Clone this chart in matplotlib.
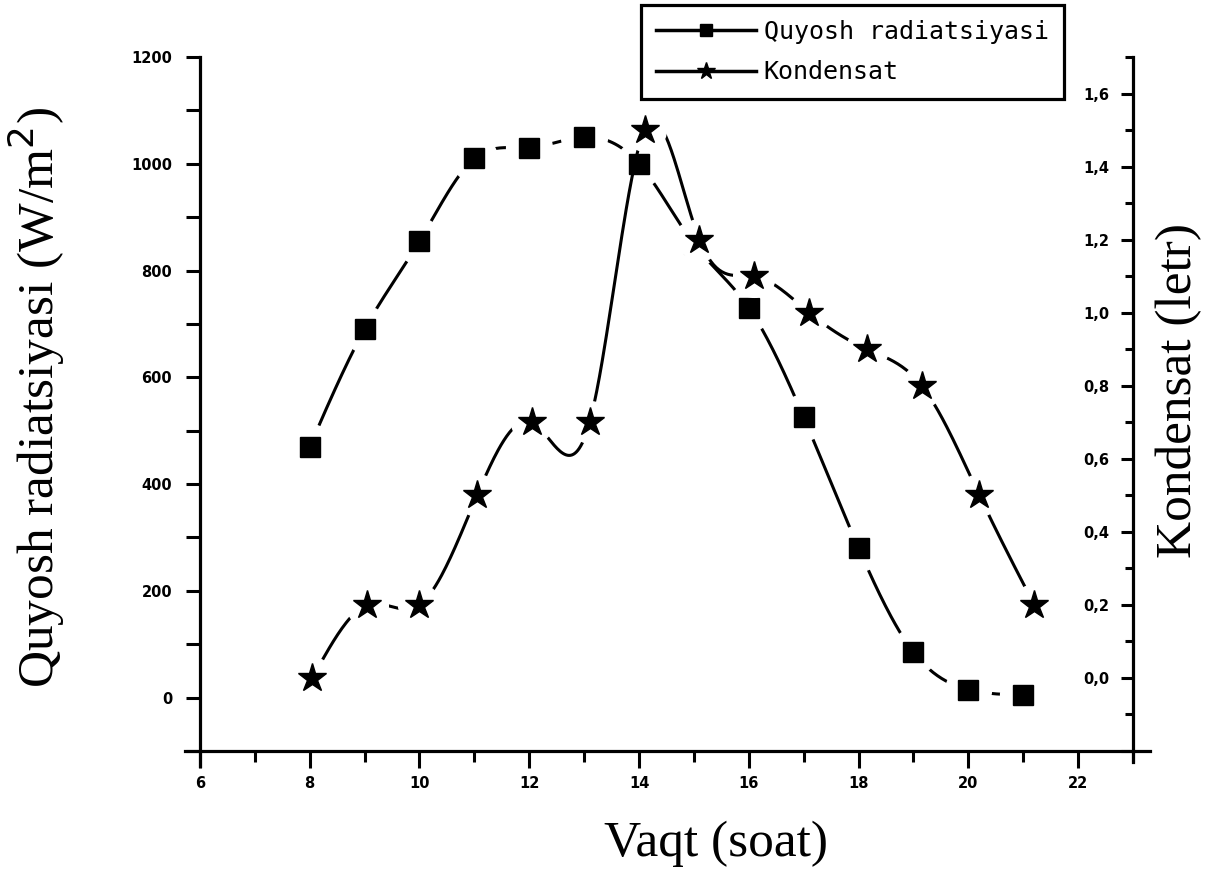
import numpy as np
import matplotlib
matplotlib.use("Agg")
import matplotlib.pyplot as plt
from matplotlib.lines import Line2D
from matplotlib.ticker import MultipleLocator, FuncFormatter

# Chart data
hours_rad = [8, 9, 10, 11, 12, 13, 14, 15, 16, 17, 18, 19, 20, 21]
radiation = [470, 690, 855, 1010, 1030, 1050, 1000, 850, 730, 525, 280, 85, 15, 5]

hours_kon = [8.05, 9.05, 10.0, 11.05, 12.05, 13.1, 14.1, 15.1, 16.1, 17.1, 18.15, 19.15, 20.2, 21.2]
kondensat = [0.0, 0.2, 0.2, 0.5, 0.7, 0.7, 1.5, 1.2, 1.1, 1.0, 0.9, 0.8, 0.5, 0.2]

labels = ["Quyosh radiatsiyasi", "Kondensat"]

serif = "Liberation Serif"


# Smooth connecting curve (like Origin's spline connect) - natural cubic spline
def spline_path(x, y, n=40):
    x = np.asarray(x, float)
    y = np.asarray(y, float)
    h = np.diff(x)
    N = len(x)
    A = np.zeros((N, N))
    r = np.zeros(N)
    A[0, 0] = A[-1, -1] = 1
    for i in range(1, N - 1):
        A[i, i - 1] = h[i - 1]
        A[i, i] = 2 * (h[i - 1] + h[i])
        A[i, i + 1] = h[i]
        r[i] = 6 * ((y[i + 1] - y[i]) / h[i] - (y[i] - y[i - 1]) / h[i - 1])
    M = np.linalg.solve(A, r)
    xs, ys = [], []
    for i in range(N - 1):
        t = np.linspace(x[i], x[i + 1], n)
        a = x[i + 1] - t
        b = t - x[i]
        s = ((M[i] * a**3 + M[i + 1] * b**3) / (6 * h[i])
             + (y[i] / h[i] - M[i] * h[i] / 6) * a
             + (y[i + 1] / h[i] - M[i + 1] * h[i] / 6) * b)
        xs.extend(t)
        ys.extend(s)
    return xs, ys


fig = plt.figure(figsize=(12.19, 8.81), dpi=100)
ax = fig.add_axes([0.164, 0.1476, 0.7655, 0.7877])
ax2 = ax.twinx()

# Radiation (squares); white discs leave the gap round each marker
sx, sy = spline_path(hours_rad, radiation)
ax.plot(sx, sy, color="black", lw=2.2, zorder=2)
ax.plot(hours_rad, radiation, "o", ms=33, color="white", zorder=3)
ax.plot(hours_rad, radiation, "s", ms=14, color="black", zorder=4)

# Kondensat (stars)
kx, ky = spline_path(hours_kon, kondensat)
ax2.plot(kx, ky, color="black", lw=2.2, zorder=2)
ax2.plot(hours_kon, kondensat, "o", ms=30, color="white", zorder=3)
ax2.plot(hours_kon, kondensat, "*", ms=21, color="black", zorder=4)

ax.set_xlim(6, 23)
ax.set_ylim(-100, 1200)
ax2.set_ylim(-0.2, 1.7)

# Spines: Origin-style crossing axes
ax.spines["top"].set_visible(False)
ax.spines["right"].set_visible(False)
ax2.spines["top"].set_visible(False)
ax2.spines["left"].set_visible(False)
ax2.spines["bottom"].set_visible(False)
for sp in [ax.spines["left"], ax.spines["bottom"], ax2.spines["right"]]:
    sp.set_linewidth(2.3)
ax.spines["bottom"].set_bounds(6 - 0.28, 23 + 0.3)
ax.spines["left"].set_bounds(-100 - 28, 1200)
ax2.spines["right"].set_bounds(-0.2 - 0.03, 1.7)

tick_font = {"family": "DejaVu Sans", "weight": "bold", "size": 10.5}

ax.xaxis.set_major_locator(MultipleLocator(2))
ax.xaxis.set_minor_locator(MultipleLocator(1))
ax.yaxis.set_major_locator(MultipleLocator(200))
ax.yaxis.set_minor_locator(MultipleLocator(100))
ax.tick_params(axis="x", which="major", direction="out", length=12, width=2.2, pad=6)
ax.tick_params(axis="x", which="minor", direction="out", length=8, width=2.2)
ax.tick_params(axis="y", which="major", direction="out", length=10, width=2.2, pad=10)
ax.tick_params(axis="y", which="minor", direction="out", length=10, width=2.2)

ax2.yaxis.set_major_locator(MultipleLocator(0.2))
ax2.yaxis.set_minor_locator(MultipleLocator(0.1))
ax2.yaxis.set_major_formatter(FuncFormatter(lambda v, p: f"{v:.1f}".replace(".", ",") if v > -0.05 else ""))
ax2.tick_params(axis="y", which="major", direction="in", length=9, width=2.2, pad=-17)
ax2.tick_params(axis="y", which="minor", direction="in", length=6, width=2.2)

for lab in ax.get_xticklabels() + ax.get_yticklabels() + ax2.get_yticklabels():
    lab.set_fontproperties(tick_font)
for lab in ax2.get_yticklabels():
    lab.set_horizontalalignment("right")

# Axis titles
ax.set_xlabel("Vaqt (soat)", family=serif, fontsize=37)
ax.xaxis.set_label_coords(0.553, -0.1)
ax.set_ylabel("Quyosh radiatsiyasi (W/m$^2$)", family=serif, fontsize=37)
ax.yaxis.set_label_coords(-0.142, 0.51)
ax2.set_ylabel("Kondensat (letr)", family=serif, fontsize=37)
ax2.yaxis.set_label_coords(1.024, 0.52)

# Legend box at top
handles = [
    Line2D([], [], color="black", lw=2.5, marker="s", ms=9),
    Line2D([], [], color="black", lw=2.5, marker="*", ms=13),
]
leg = fig.legend(handles, labels, loc="upper left",
                 bbox_to_anchor=(641 / 1219, 1 - 5 / 881),
                 prop={"family": "DejaVu Sans Mono", "size": 18},
                 handlelength=4.0, handletextpad=0.3, borderaxespad=0,
                 borderpad=0.6, labelspacing=0.65, fancybox=False,
                 framealpha=1, edgecolor="black")
leg.get_frame().set_linewidth(2.3)

fig.savefig("out.png", dpi=100)
